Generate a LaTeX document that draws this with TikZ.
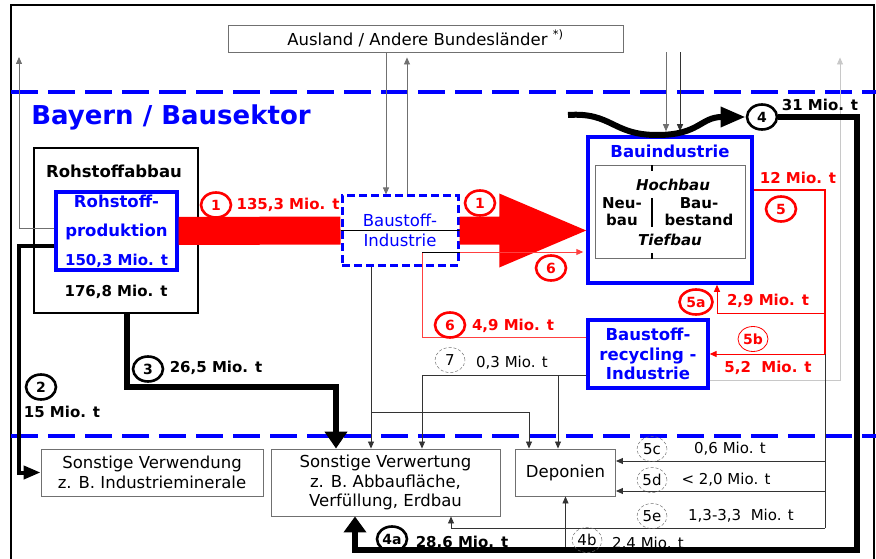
\documentclass[tikz,border=0pt]{standalone}
\usepackage{fontspec}
\setmainfont{DejaVu Sans}
\usetikzlibrary{arrows.meta,positioning,calc,shapes.geometric}
\definecolor{bsBlue}{HTML}{0000FF}
\definecolor{bsRed}{HTML}{FF0000}
\definecolor{bsGrey}{HTML}{707070}
\definecolor{bsLight}{HTML}{C8C8C8}
\newcommand{\fsz}[2]{\fontsize{#1}{#2}\selectfont}
\tikzset{
  >={Triangle[length=7pt,width=6pt]},
  box/.style={draw=bsGrey, line width=0.9pt, align=center, inner sep=0pt,
              font=\fsz{16.5}{19.5}},
  bluebox/.style={draw=bsBlue, line width=3.3pt, align=center, inner sep=0pt,
              text=bsBlue, font=\fsz{16.5}{19.5}\bfseries},
  num/.style={ellipse, minimum width=30pt, minimum height=25pt, inner sep=0pt,
              font=\fsz{14}{14}\bfseries},
  blknum/.style={num, draw=black, line width=2.6pt},
  rednum/.style={num, draw=bsRed, line width=2.6pt, text=bsRed},
  dotnum/.style={num, draw=bsGrey, densely dashed, line width=0.5pt,
              font=\fsz{15}{15}},
  val/.style={font=\fsz{15}{15}\bfseries, inner sep=0pt},
  redval/.style={val, text=bsRed},
  txt/.style={font=\fsz{15}{15}, inner sep=0pt},
  flow/.style={draw=black!80, line width=0.8pt},
  greyflow/.style={draw=bsGrey, line width=0.8pt},
  lightflow/.style={draw=bsLight, line width=0.8pt},
  redflow/.style={draw=bsRed, line width=1pt},
  heavy/.style={draw=black, line width=5.5pt, line join=miter},
  sepline/.style={draw=bsBlue, line width=3.4pt, dash pattern=on 27pt off 10pt},
}
\begin{document}
\begin{tikzpicture}[x=1pt,y=-1pt]
  \useasboundingbox (0,0) rectangle (876,559);
  \clip (0,0) rectangle (876,559);
  \draw[line width=2pt] (11,5) rectangle (874,575);
  \draw[sepline] (11,92) -- (876,92);
  \draw[sepline] (11,436) -- (876,436);

  % boxes
  \node[box, minimum width=395pt, minimum height=27pt] (aus) at (425.5,38.5)
       {Ausland / Andere Bundesländer \textsuperscript{*)}};
  \node[text=bsBlue, font=\fsz{26}{26}\bfseries] (reg) at (171,117) {Bayern / Bausektor};
  \node[draw, line width=1.4pt, minimum width=164pt, minimum height=165pt] (rab) at (116,230.5) {};
  \node[font=\fsz{16.5}{19.5}\bfseries] (rabt) at (114,171) {Rohstoffabbau};
  \node[val] (rabv) at (116,292) {176,8 Mio. t};
  \node[bluebox, minimum width=121pt, minimum height=78pt, font=\fsz{16.5}{29}\bfseries]
       (rp) at (116.5,231) {Rohstoff-\\produktion\\{\fsz{15}{27}150,3 Mio. t}};
  \node[draw=bsBlue, line width=3pt, dash pattern=on 8pt off 4pt, minimum width=116pt,
        minimum height=69pt, align=center, text=bsBlue, font=\fsz{16.5}{19.5}]
       (bi) at (400,230.5) {Baustoff-\\Industrie};
  \node[draw=bsBlue, line width=3.5pt, minimum width=164pt, minimum height=146pt] (bau) at (670,210) {};
  \node[text=bsBlue, font=\fsz{16.5}{19.5}\bfseries] (baut) at (670,151) {Bauindustrie};
  \node[draw=bsGrey, line width=1pt, minimum width=150pt, minimum height=92pt] (sparten) at (670,212) {};
  \node[font=\fsz{15}{17}\bfseries\itshape] (hoch) at (673,185) {Hochbau};
  \node[align=center, font=\fsz{15}{17}\bfseries] (neu) at (622,212) {Neu-\\bau};
  \node[align=center, font=\fsz{15}{17}\bfseries] (best) at (699,212) {Bau-\\bestand};
  \node[font=\fsz{15}{17}\bfseries\itshape] (tief) at (670,240) {Tiefbau};
  \draw[line width=1.5pt] ($(sparten.north)+(-18,0)$) -- ++(0,6);
  \draw[line width=1.5pt] ($(sparten.center)+(-18,-14)$) -- ++(0,29);
  \draw[line width=1.5pt] ($(sparten.south)+(-18,0)$) -- ++(0,-6);
  \node[bluebox, minimum width=120pt, minimum height=68pt] (rec) at (648,354)
       {Baustoff-\\recycling -\\Industrie};
  \node[box, minimum width=222pt, minimum height=47pt] (sonst) at (152,472.5)
       {Sonstige Verwendung\\z. B. Industrieminerale};
  \node[box, minimum width=229pt, minimum height=67pt] (sv) at (385.5,482.5)
       {Sonstige Verwertung\\z. B. Abbaufläche,\\Verfüllung, Erdbau};
  \node[box, minimum width=100pt, minimum height=47pt] (dep) at (565.5,472.5) {Deponien};

  % corner points
  \coordinate (kL) at (19,52);
  \coordinate (k3) at (336,387);
  \coordinate (c4in) at (568,115);
  \coordinate (k4b) at (857,550);
  \coordinate (k4c) at (355,550);
  \coordinate (k5) at (825,190);
  \coordinate (k5a) at (825,313);
  \coordinate (k5a2) at (717,313);
  \coordinate (k5c) at (825,461);
  \coordinate (k5d) at (825,491);
  \coordinate (k5e) at (825,528);
  \coordinate (k5e2) at (451,528);
  \coordinate (k6a) at (422,337);
  \coordinate (k6b) at (422,252);
  \coordinate (k7) at (422,375);
  \coordinate (k7b) at (558,375);
  \coordinate (kb) at (371,412);
  \coordinate (kb2) at (529,412);
  \coordinate (kR) at (840,380);

  % thin flows
  \draw[greyflow,->,shorten >=5pt] ($(rp.west)+(0,-3)$) -| (kL);
  \draw[lightflow,->,shorten >=5pt] (rec.east |- kR) -- (kR) -- (kR |- aus.south);
  \draw[greyflow,->] ($(aus.south -| bi.north)+(-14,0)$) -- ($(bi.north)+(-14,0)$);
  \draw[greyflow,->,shorten >=5pt] ($(bi.north)+(7,0)$) -- ($(aus.south -| bi.north)+(7,0)$);
  \draw[greyflow,->] ($(aus.south -| bau.north)+(-4,0)$) -- ($(bau.north)+(-4,-4)$);
  \draw[flow,->] ($(aus.south -| bau.north)+(10,0)$) -- ($(bau.north)+(10,-4)$);
  \draw[flow,->] (bi.south -| kb) -- (kb |- sv.north);
  \draw[flow,->] (kb) -- (kb2) -- (kb2 |- dep.north);
  \draw[flow,->] (rec.west |- k7) -- (k7) -- (k7 |- sv.north);
  \draw[flow,->] (k7b) -- (k7b |- dep.north);
  \draw[flow] (k5 |- rec.east) -- (k5e);
  \draw[flow,->] (k5c) -- (k5c -| dep.east);
  \draw[flow,->] (k5d) -- (k5d -| dep.east);
  \draw[flow,->] (k5e) -- (k5e2) -- (k5e2 |- sv.south);
  \draw[flow,->] (dep.south |- k4b) -- (dep.south);

  % red flows
  \draw[bsRed, line width=28pt] (rp.east) -- (bi.west);
  \draw[line width=0.8pt] (bi.west) -- (bi.east);
  \coordinate (tip1) at (bi.east -| bau.west);
  \fill[bsRed] ($(bi.east)+(0,-14)$) -- ($(tip1)+(-87,-14)$) -- ($(tip1)+(-87,-37)$)
       -- (tip1) -- ($(tip1)+(-87,37)$) -- ($(tip1)+(-87,14)$) -- ($(bi.east)+(0,14)$) -- cycle;
  \draw[redflow,draw=bsRed!75,->,shorten >=3pt] (rec.west |- k6a) -- (k6a) -- (k6b) -- (k6b -| bau.west);
  \draw[line width=0.8pt] (k6b) -- (k6b -| bi.east);
  \draw[bsRed, line width=2.8pt] (bau.east |- k5) -- (k5) -- (k5 |- rec.east);
  \draw[redflow,->] (k5 |- rec.east) -- (rec.east);
  \draw[redflow,->] (k5a) -- (k5a2) -- (k5a2 |- bau.south);

  % heavy flows
  \draw[heavy, line width=4pt, -{Triangle[length=17pt,width=13pt]}]
       ($(rp.west)+(0,15)$) -| ($(sonst.west)+(-22,0)$) -- (sonst.west);
  \draw[heavy, -{Triangle[length=17pt,width=22pt]}]
       ($(rab.south)+(11,0)$) |- (k3) -- (k3 |- sv.north);
  \node[blknum] (c4) at (762,117) {4};
  \draw[heavy, line width=6pt, -{Triangle[length=25pt,width=19pt]}]
       (c4in) .. controls (612,112) and (612,135) .. (657,135)
       .. controls (700,135) and (700,117) .. (c4.west);
  \draw[heavy, line width=6.5pt, -{Triangle[length=16pt,width=22pt]}]
       (c4.east) -| (k4b) -- (k4c) -- (k4c |- sv.south);

  % labels
  \node[rednum] (n1a) at (216,205) {1};
  \node[redval] (v1a) at (288,205) {135,3 Mio. t};
  \node[rednum] (n1b) at (480,203) {1};
  \node[rednum] (n6a) at (551,268) {6};
  \node[rednum] (n6b) at (450,325) {6};
  \node[redval] (v6) at (513,326) {4,9 Mio. t};
  \node[dotnum] (n7) at (450,360) {7};
  \node[txt] (v7) at (512,363) {0,3 Mio. t};
  \node[val] (v4) at (820,105) {31 Mio. t};
  \node[redval] (v5) at (798,178) {12 Mio. t};
  \node[rednum] (n5) at (781,209) {5};
  \node[rednum, minimum width=33pt] (n5a) at (696,302) {5a};
  \node[num, draw=bsRed, line width=0.8pt, text=bsRed] (n5b) at (753,339) {5b};
  \node[redval] (v5a) at (768,301) {2,9 Mio. t};
  \node[redval] (v5b) at (768,368) {5,2~ Mio. t};
  \node[dotnum] (n5c) at (652,449) {5c};
  \node[txt] (v5c) at (730,449) {0,6 Mio. t};
  \node[dotnum] (n5d) at (652,480) {5d};
  \node[txt] (v5d) at (726,480) {< 2,0 Mio. t};
  \node[dotnum] (n5e) at (652,516) {5e};
  \node[txt] (v5e) at (741,516) {1,3-3,3~ Mio. t};
  \node[dotnum] (n4b) at (587,540) {4b};
  \node[txt] (v4b) at (648,544) {2,4 Mio. t};
  \node[blknum] (n4a) at (392,539) {4a};
  \node[val] (v4a) at (462,543) {28,6 Mio. t};
  \node[blknum] (n3) at (148,369) {3};
  \node[val] (v3) at (216,368) {26,5 Mio. t};
  \node[blknum] (n2) at (41,387) {2};
  \node[val] (v2) at (62,412) {15 Mio. t};
\end{tikzpicture}
\end{document}
